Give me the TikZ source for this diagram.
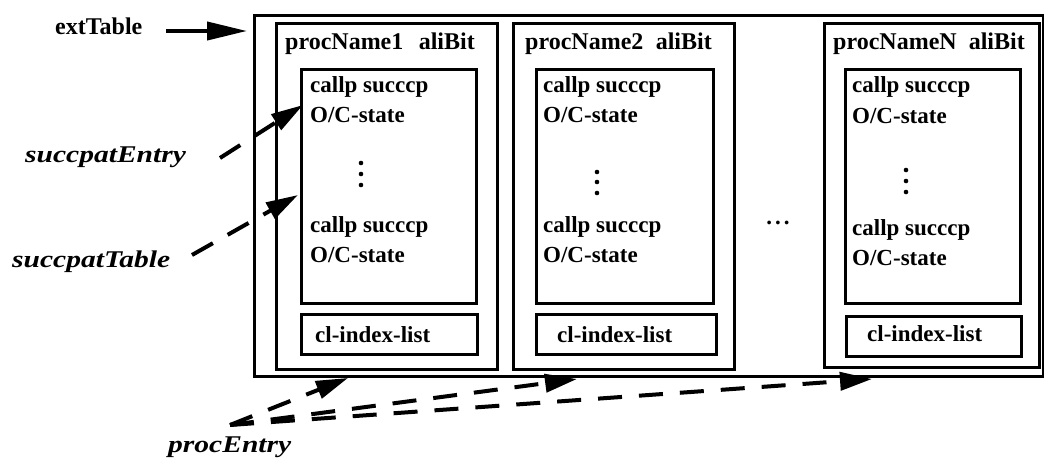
\documentclass[tikz,border=0pt]{standalone}
\usepackage{fontspec}
\usepackage{graphicx}
\setmainfont{Liberation Serif}
\usetikzlibrary{arrows.meta}
\newcommand\scriptlab[1]{\scalebox{1.23}[1]{\fontsize{24}{28}\selectfont\bfseries\itshape #1}}
\tikzset{
  box/.style={draw, line width=3pt, inner sep=0pt, anchor=north west},
  txt/.style={inner sep=0pt, anchor=base west, font=\fontsize{23}{28}\selectfont\bfseries},
  hdr/.style={inner sep=0pt, anchor=base west, font=\fontsize{24}{28}\selectfont\bfseries},
  lbl/.style={inner sep=0pt, anchor=base west},
  solidptr/.style={line width=4pt, -{Triangle[length=40pt,width=18pt]}},
  dashptr/.style={line width=4pt, dash pattern=on 24pt off 17pt, -{Triangle[length=32pt,width=18pt]}},
  vdot/.style={fill=black},
}
\begin{document}
\begin{tikzpicture}[x=1pt,y=-1pt]
\useasboundingbox (0,0) rectangle (1044,459);
\fill[white] (0,0) rectangle (1044,459);

% boxes
\node[box, minimum width=789, minimum height=361] (outer) at (253,14) {};
\node[box, minimum width=221, minimum height=346] (col1) at (275,22) {};
\node[box, minimum width=175, minimum height=234] (inner1) at (300,68) {};
\node[box, minimum width=176, minimum height=40] (cl1) at (300,313) {};
\node[box, minimum width=221, minimum height=346] (col2) at (512,22) {};
\node[box, minimum width=177, minimum height=234] (inner2) at (535,68) {};
\node[box, minimum width=180, minimum height=40] (cl2) at (535,313) {};
\node[box, minimum width=215, minimum height=344] (colN) at (823,22) {};
\node[box, minimum width=175, minimum height=234] (innerN) at (844,68) {};
\node[box, minimum width=175, minimum height=40] (clN) at (845,315) {};

% headers
\node[hdr] (pn1) at (285,49) {procName1};
\node[hdr, anchor=base east] (ab1) at (475,49) {aliBit};
\node[hdr] (pn2) at (525,49) {procName2};
\node[hdr, anchor=base east] (ab2) at (712,49) {aliBit};
\node[hdr] (pnN) at (833,49) {procNameN};
\node[hdr, anchor=base east] (abN) at (1025,49) {aliBit};

% entries column 1
\node[txt] (c1a) at (310,92) {callp succcp};
\node[txt] (c1b) at (310,122) {O/C-state};
\node[txt] (c1c) at (310,232) {callp succcp};
\node[txt] (c1d) at (310,262) {O/C-state};
\fill[vdot] (361,163) circle (2.3) (361,174) circle (2.3) (361,185) circle (2.3);
\node[txt] (cl1t) at (315,342) {cl-index-list};

% entries column 2
\node[txt] (c2a) at (543,92) {callp succcp};
\node[txt] (c2b) at (543,122) {O/C-state};
\node[txt] (c2c) at (543,232) {callp succcp};
\node[txt] (c2d) at (543,262) {O/C-state};
\fill[vdot] (597,172) circle (2.3) (597,182) circle (2.3) (597,193) circle (2.3);
\node[txt] (cl2t) at (557,342) {cl-index-list};

% entries column N
\node[txt] (cNa) at (852,92) {callp succcp};
\node[txt] (cNb) at (852,123) {O/C-state};
\node[txt] (cNc) at (852,235) {callp succcp};
\node[txt] (cNd) at (852,265) {O/C-state};
\fill[vdot] (906,170) circle (2.3) (906,181) circle (2.3) (906,192) circle (2.3);
\node[txt] (clNt) at (867,341) {cl-index-list};

% ellipsis between columns
\node[txt, anchor=base] (ell) at (778,224) {.\kern3pt.\kern3pt.};

% labels
\node[hdr] (ext) at (55,34) {extTable};
\node[lbl] (spe) at (25,162) {\scriptlab{succpatEntry}};
\node[lbl] (spt) at (12,267) {\scriptlab{succpatTable}};
\node[lbl] (pe) at (168,452) {\scriptlab{procEntry}};

% connector end points
\coordinate (extS) at (166,31);
\coordinate (extT) at (247,31);
\coordinate (speS) at (220,158);
\coordinate (speT) at (303,105);
\coordinate (sptS) at (192,255);
\coordinate (sptT) at (298,195);
\coordinate (peS) at (230,425);
\coordinate (pe1) at (348,378);
\coordinate (pe2) at (577,379);
\coordinate (peN) at (872,379);

% connectors
\draw[solidptr] (extS) -- (extT);
\draw[dashptr] (speS) -- (speT);
\draw[dashptr] (sptS) -- (sptT);
\draw[dashptr] (peS) -- (pe1);
\draw[dashptr] (peS) -- (pe2);
\draw[dashptr] (peS) -- (peN);
\end{tikzpicture}
\end{document}
